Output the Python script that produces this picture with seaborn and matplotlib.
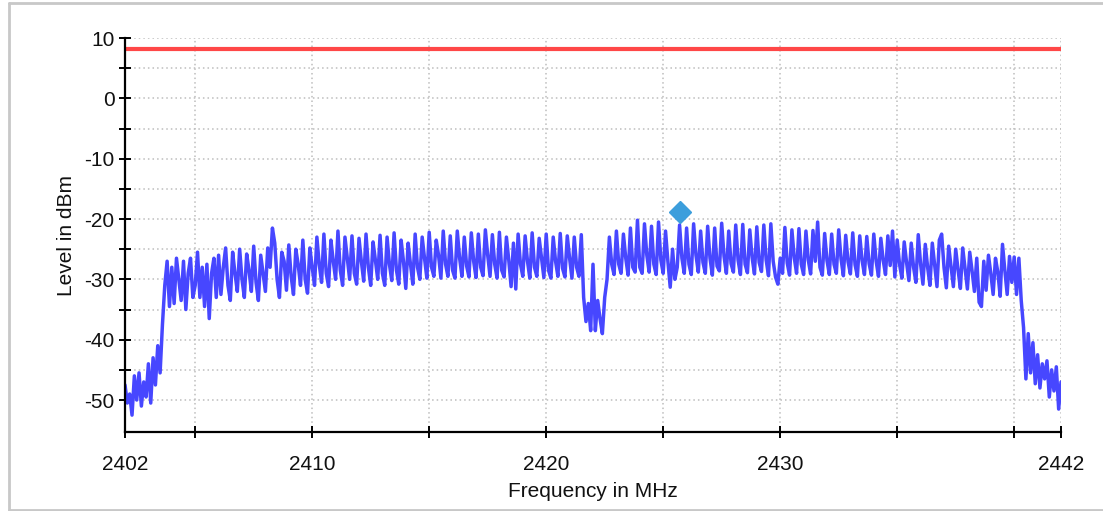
import numpy as np
import pandas as pd
import matplotlib
matplotlib.use("Agg")
import matplotlib.pyplot as plt
from matplotlib.lines import Line2D
from matplotlib.ticker import FixedLocator
import seaborn as sns

# Sweep grid: 2402.0 ... 2442.0 MHz in 0.1 MHz steps
freq_mhz = np.round(np.linspace(2402.0, 2442.0, 401), 1)

# Measured level (dBm), one row per MHz
level_dbm = [
    -47.5, -50.5, -49, -52.5, -46, -50, -45.5, -51, -47, -49.5,          # 2402
    -44, -50.5, -43, -47.5, -41, -45.5, -37.5, -31, -27, -34.5,          # 2403
    -28, -34, -26.5, -30, -33.5, -27, -35, -29, -26.5, -33,              # 2404
    -31, -25.5, -33, -28, -34.5, -27.5, -36.5, -29, -26.5, -33,          # 2405
    -26, -32.5, -28, -24.8, -31, -33.5, -25.5, -29, -32, -25,            # 2406
    -30, -33, -25.8, -28.5, -32, -24.5, -30.5, -33.5, -26, -29,          # 2407
    -32, -24.8, -28, -21.5, -24, -30, -33, -25.5, -27, -31.8,            # 2408
    -24.3, -29.5, -32.5, -25, -27.5, -31, -23.5, -30, -32.3, -24.8,      # 2409
    -28, -31, -23, -27.5, -30.5, -22.5, -29, -31.2, -23.5, -27,          # 2410
    -30, -22, -28.5, -31, -23, -26.5, -30, -22.8, -29, -30.8,            # 2411
    -23.2, -27, -30.3, -22.5, -28, -31, -23.8, -26.8, -30, -22.7,        # 2412
    -29, -31, -23, -27.5, -30.2, -22.3, -28.5, -30.8, -23.5, -27,        # 2413
    -31.5, -24, -27.5, -30.8, -22.5, -28, -30, -23, -26.5, -29.8,        # 2414
    -22.2, -28, -29.5, -23.5, -26, -29.8, -22, -27.5, -29.5, -22.8,      # 2415
    -28.5, -29.8, -22, -26.5, -29.5, -23, -27.8, -29.6, -22.3, -27,      # 2416
    -29.7, -22.5, -28, -29.4, -21.8, -26, -29.5, -22.6, -27.5, -29.8,    # 2417
    -22.2, -28.5, -29.6, -23, -26.8, -31.2, -24, -31.6, -22.5, -27.5,    # 2418
    -29.5, -22.8, -27, -29.8, -22.3, -28, -29.5, -23.2, -26.5, -29.7,    # 2419
    -22.5, -28.5, -29.8, -23, -27, -29.5, -22.4, -28.2, -29.6, -22.8,    # 2420
    -26.5, -29.8, -23, -28, -29.5, -22.6, -33, -37, -34, -38.5,          # 2421
    -27.5, -38.5, -33.5, -36.5, -39, -33, -30, -23, -27.5, -29.2,        # 2422
    -22, -27.5, -29, -22.5, -26.5, -29.3, -21.5, -28, -28.8, -20.2,      # 2423
    -28, -29, -20.8, -26, -28.8, -21.2, -27.5, -29.2, -20.5, -26.8,      # 2424
    -29, -22, -27, -31.3, -25, -30, -28, -21, -26.5, -29,                # 2425
    -21.5, -27.5, -29.2, -20.8, -26, -28.8, -22, -27.2, -29, -21.2,      # 2426
    -26.5, -29.3, -21.5, -27.8, -28.6, -20.7, -26.2, -29, -22, -27.4,    # 2427
    -28.8, -21, -26.8, -29.2, -20.9, -27.5, -28.9, -21.8, -26.4, -29.1,  # 2428
    -21.3, -27.2, -28.7, -21, -26.8, -29.4, -20.8, -27, -29.6, -30.8,    # 2429
    -26.5, -29, -21.4, -27.3, -29.3, -21.8, -26.4, -29, -21.6, -27.5,    # 2430
    -29.2, -22, -26.8, -29.1, -21.9, -27, -20.5, -28, -29.3, -22.4,      # 2431
    -26.9, -29.2, -22.5, -27.5, -29, -21.8, -26.6, -29.4, -22.7, -27.1,  # 2432
    -29.1, -22.3, -27.6, -29.5, -22.8, -26.9, -29.2, -22.9, -27.4, -29.3,  # 2433
    -22.5, -27, -29.5, -23.2, -26.8, -29.2, -22.8, -27.7, -22, -29.6,    # 2434
    -23.5, -27.5, -29.8, -23.8, -27.2, -30.2, -24, -28, -30.5, -22.6,    # 2435
    -27.5, -30.8, -24.2, -28, -31, -24, -27.6, -31.2, -23.5, -22.5,      # 2436
    -28, -31.4, -24.5, -27.8, -31.2, -25, -28.4, -31.5, -24.8, -28.2,    # 2437
    -31.6, -25.5, -28.6, -32, -26.5, -33.8, -34.5, -27, -31.8, -26,      # 2438
    -29, -32.5, -26.5, -28.8, -32.8, -24.2, -28.5, -32.5, -26.2, -30.5,  # 2439
    -26.3, -32.5, -26.5, -33.5, -38, -46.5, -39, -45.5, -40.5, -47.3,    # 2440
    -42.5, -48, -44, -46.5, -43.5, -49.5, -45, -48.5, -44.5, -51.5,      # 2441
    -47,                                                                 # 2442
]

limit_dbm = 8.2
peak_freq_mhz = 2425.72
peak_level_dbm = -18.9

x_major = [2402, 2410, 2420, 2430, 2442]
x_minor = [2405, 2415, 2425, 2435, 2440]
y_major = [10, 0, -10, -20, -30, -40, -50]
y_minor = [5, -5, -15, -25, -35, -45]

trace = pd.DataFrame({"freq": freq_mhz, "level": level_dbm})

sns.set_style("white")
plt.rcParams["font.family"] = ["Liberation Sans", "DejaVu Sans"]

fig = plt.figure(figsize=(11.03, 5.11), dpi=100)
ax = fig.add_axes([125 / 1103, 1 - 432 / 511, (1061 - 125) / 1103, (432 - 38) / 511])

sns.lineplot(data=trace, x="freq", y="level", ax=ax, color="#4747FF",
             linewidth=2.5, sort=False, errorbar=None, zorder=3)
ax.plot([x_major[0], x_major[-1]], [limit_dbm, limit_dbm],
        color="#FF4747", linewidth=3, solid_capstyle="butt", zorder=4)
ax.plot([peak_freq_mhz], [peak_level_dbm], marker="D", markersize=11,
        color="#3C9EDC", linestyle="none", zorder=5)

ax.set_xlim(2402, 2442)
ax.set_ylim(-55.3, 10)

ax.xaxis.set_major_locator(FixedLocator(x_major))
ax.xaxis.set_minor_locator(FixedLocator(x_minor))
ax.yaxis.set_major_locator(FixedLocator(y_major))
ax.yaxis.set_minor_locator(FixedLocator(y_minor))
ax.set_xticklabels([str(v) for v in x_major])
ax.set_yticklabels([str(v) for v in y_major])

ax.grid(True, which="both", color="#BDBDBD", linestyle=(0, (1, 2)), linewidth=1.1)
ax.set_axisbelow(True)

for side in ("top", "right"):
    ax.spines[side].set_visible(False)
for side in ("left", "bottom"):
    ax.spines[side].set_color("black")
    ax.spines[side].set_linewidth(1.6)
    ax.spines[side].set_zorder(6)

ax.tick_params(axis="both", which="both", direction="inout", length=9,
               width=1.4, color="black", labelsize=15, labelcolor="#111111",
               bottom=True, left=True, top=False, right=False)
ax.tick_params(axis="x", which="both", pad=12)
ax.tick_params(axis="y", which="both", pad=3)

ax.set_xlabel("Frequency in MHz", fontsize=15, color="#111111", labelpad=6)
ax.set_ylabel("Level in dBm", fontsize=15, color="#111111", labelpad=6)

# Thin grey frame around the figure
frame_kw = dict(color="#C8C8C8", linewidth=2, transform=fig.transFigure)
fig.add_artist(Line2D([9 / 1103, 9 / 1103], [1 - 3 / 511, 1 - 510 / 511], **frame_kw))
fig.add_artist(Line2D([9 / 1103, 1], [1 - 3 / 511, 1 - 3 / 511], **frame_kw))
fig.add_artist(Line2D([9 / 1103, 1], [1 - 510 / 511, 1 - 510 / 511], **frame_kw))

fig.savefig("out.png", dpi=100)
